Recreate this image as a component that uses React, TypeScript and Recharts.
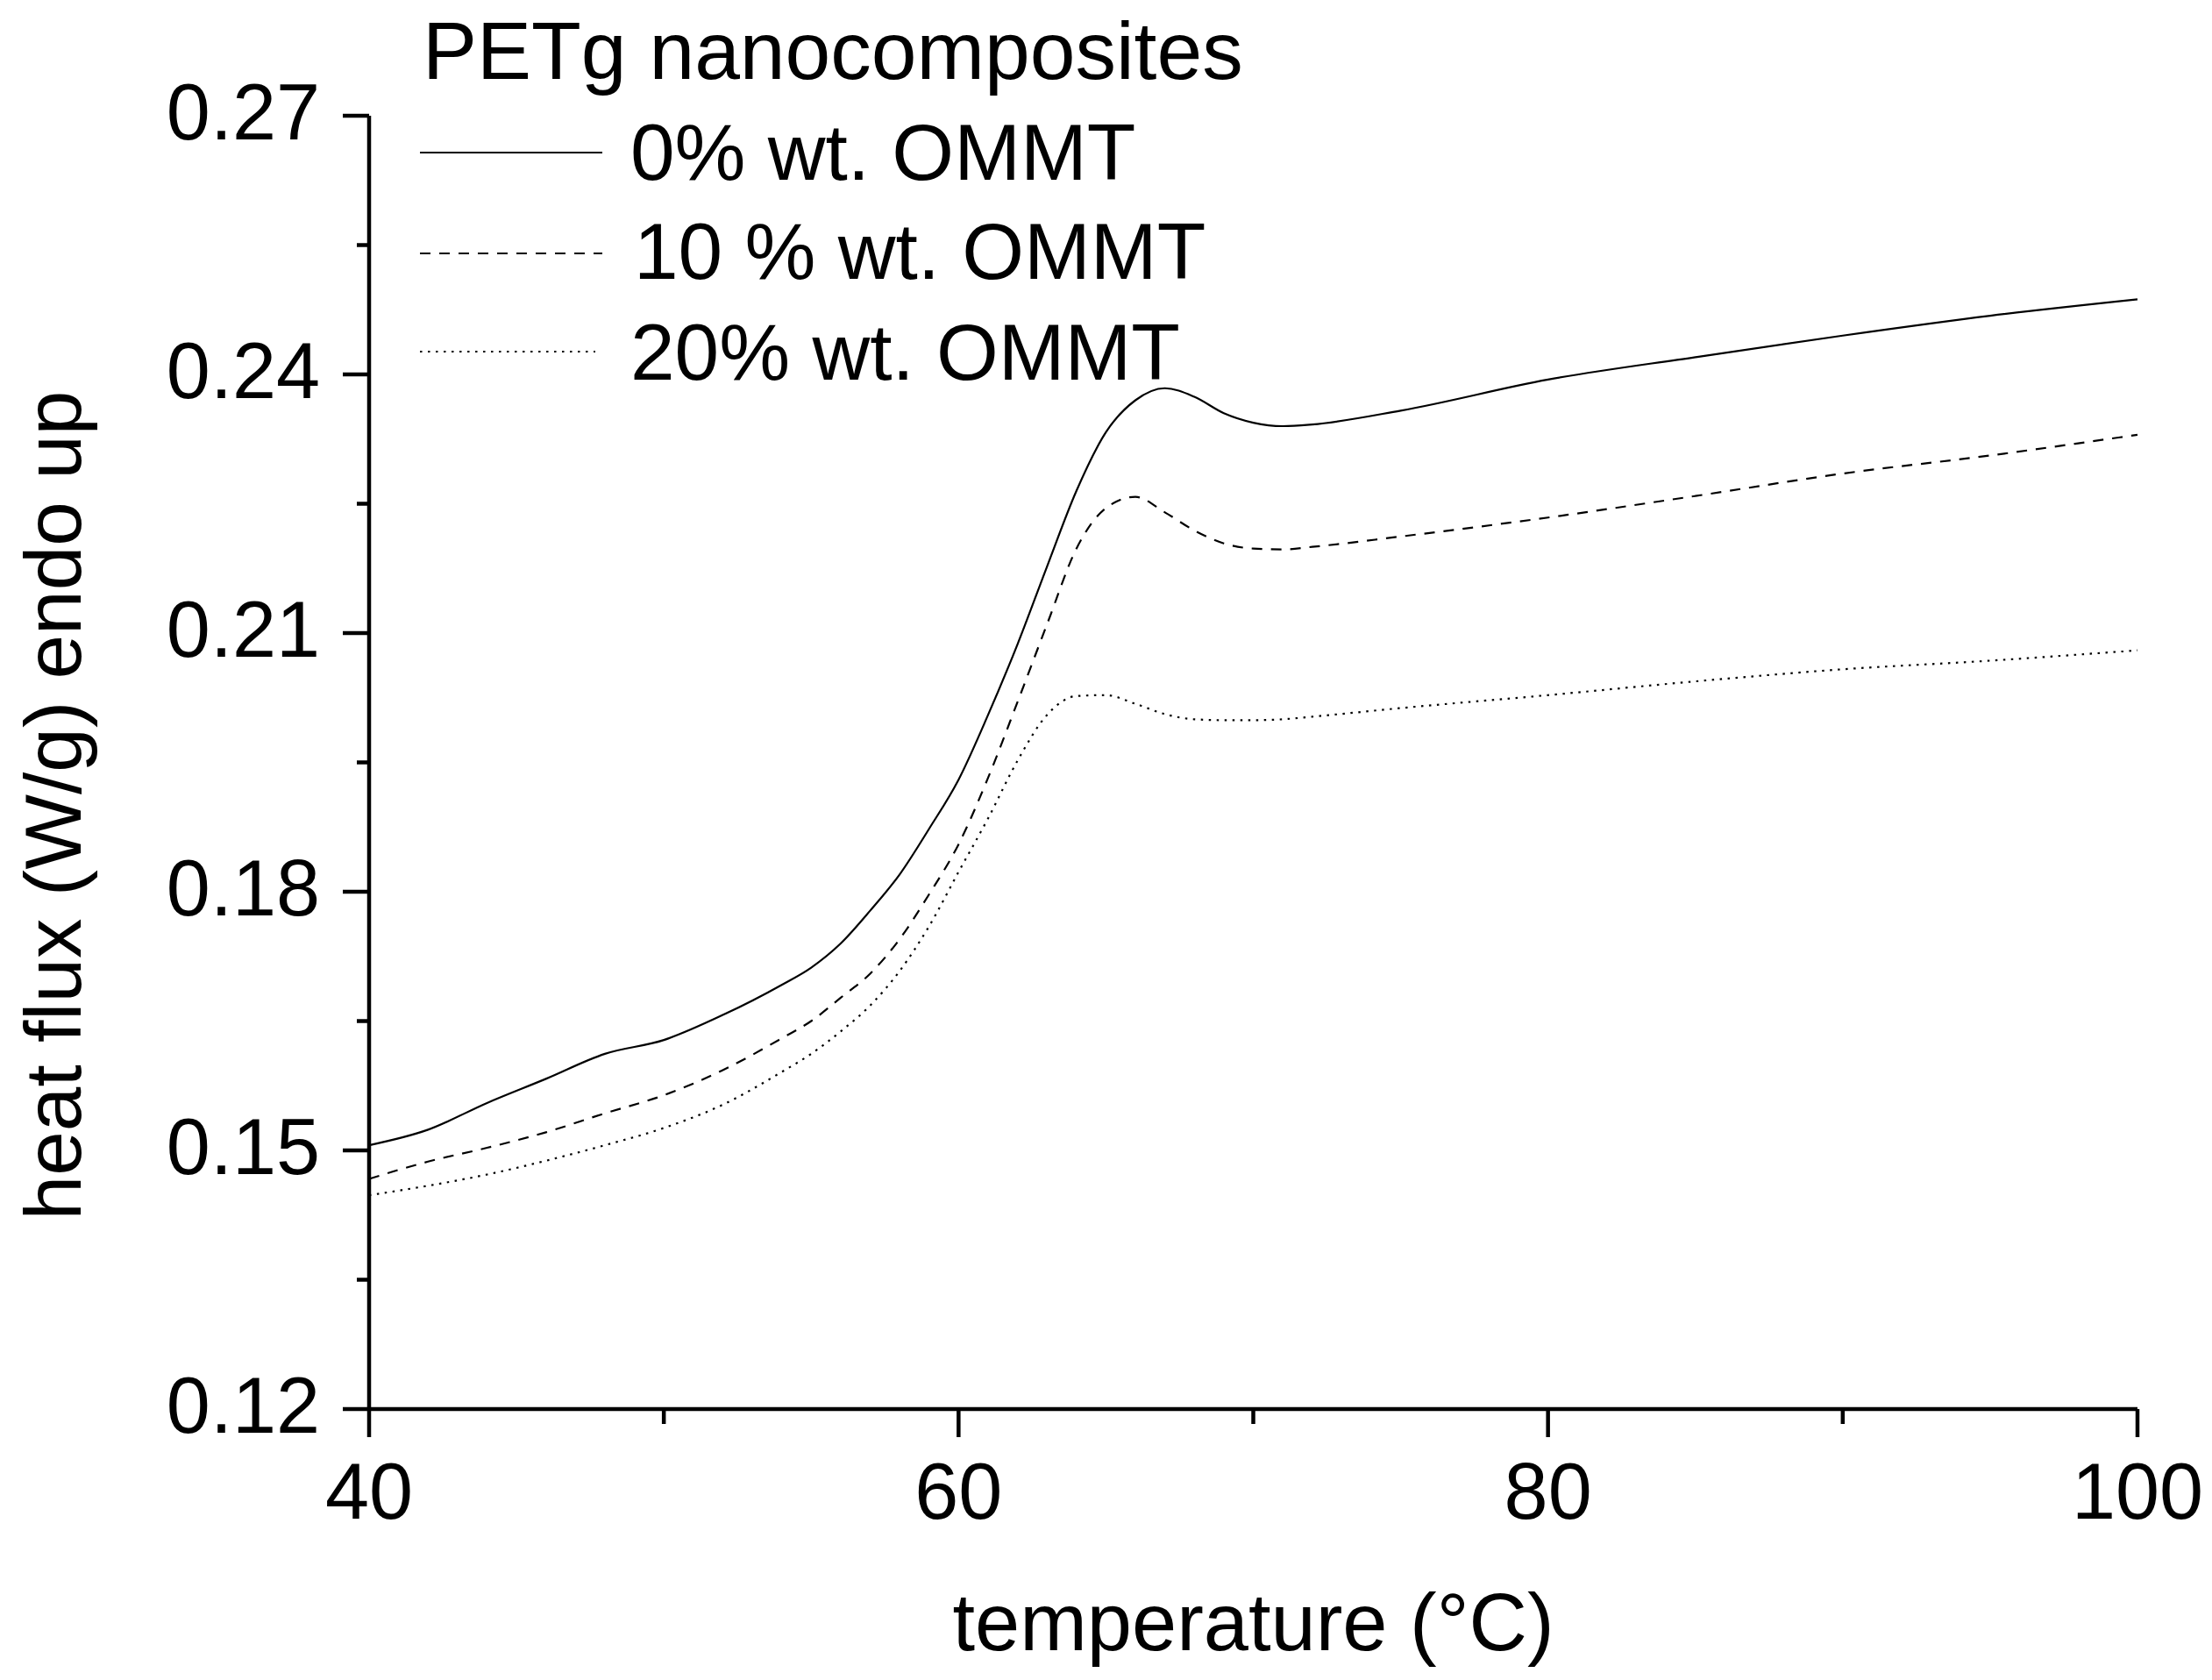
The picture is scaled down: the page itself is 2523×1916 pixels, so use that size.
import React from "react";
import { LineChart, Line, XAxis, YAxis, Legend, Label } from "recharts";

const TEMPS = [40, 42, 44, 46, 48, 50, 52, 54, 55, 56, 57, 58, 59, 60, 61, 62, 63, 64, 65, 66, 67, 68, 69, 70, 71, 72, 75, 80, 85, 90, 95, 100];
const OMMT0 = [0.1506, 0.1524, 0.1555, 0.1583, 0.1612, 0.1628, 0.1657, 0.1692, 0.1712, 0.174, 0.1778, 0.182, 0.1873, 0.193, 0.2005, 0.2087, 0.2177, 0.2265, 0.2333, 0.237, 0.2384, 0.2374, 0.2355, 0.2344, 0.234, 0.2342, 0.2358, 0.2394, 0.242, 0.2445, 0.2468, 0.2487];
const OMMT10 = [0.1467, 0.1487, 0.1503, 0.1521, 0.1543, 0.1564, 0.1593, 0.163, 0.165, 0.1677, 0.1705, 0.1745, 0.1797, 0.1855, 0.1932, 0.202, 0.211, 0.2198, 0.2245, 0.2258, 0.224, 0.2219, 0.2204, 0.2198, 0.2197, 0.22, 0.2212, 0.2234, 0.2259, 0.2285, 0.2306, 0.233];
const OMMT20 = [0.1448, 0.1459, 0.1472, 0.1488, 0.1506, 0.1526, 0.1553, 0.1591, 0.1612, 0.1638, 0.1668, 0.1708, 0.176, 0.1823, 0.1885, 0.1952, 0.2005, 0.2027, 0.2028, 0.2018, 0.2006, 0.2, 0.1999, 0.1999, 0.2, 0.2003, 0.2013, 0.2028, 0.2044, 0.2058, 0.2068, 0.208];

const SERIES_NAMES = ["0% wt. OMMT", "10 % wt. OMMT", "20% wt. OMMT"];
const SERIES_KEYS = ["s0", "s10", "s20"];
const SERIES_DASH = ["", "12 10", "2.5 6.5"];

const X_TICKS = [40, 50, 60, 70, 80, 90, 100];
const X_MAJOR = [40, 60, 80, 100];
const Y_TICKS = [0.12, 0.135, 0.15, 0.165, 0.18, 0.195, 0.21, 0.225, 0.24, 0.255, 0.27];
const Y_MAJOR = [0.12, 0.15, 0.18, 0.21, 0.24, 0.27];

const LEGEND_TITLE = "PETg nanocomposites";
const X_TITLE = "temperature (°C)";
const Y_TITLE = "heat flux (W/g) endo up";

const data = TEMPS.map((t, i) => ({ t, s0: OMMT0[i], s10: OMMT10[i], s20: OMMT20[i] }));

const FONT = "'Liberation Sans', Arial, sans-serif";
const isIn = (arr: number[], v: number) => arr.some((a) => Math.abs(a - v) < 1e-6);

const XTick = (props: any) => {
  const { x, y, payload } = props;
  const major = isIn(X_MAJOR, payload.value);
  return (
    <g>
      <line x1={x} x2={x} y1={y} y2={y + (major ? 32 : 17)} stroke="#000" strokeWidth={4.5} />
      {major && (
        <text x={x} y={y + 125} textAnchor="middle" fontSize={90} fontFamily={FONT} fill="#000">
          {payload.value}
        </text>
      )}
    </g>
  );
};

const YTick = (props: any) => {
  const { x, y, payload } = props;
  const major = isIn(Y_MAJOR, payload.value);
  return (
    <g>
      <line x1={x - (major ? 30 : 14)} x2={x} y1={y} y2={y} stroke="#000" strokeWidth={4.5} />
      {major && (
        <text x={x - 56} y={y + 27} textAnchor="end" fontSize={90} fontFamily={FONT} fill="#000">
          {payload.value.toFixed(2)}
        </text>
      )}
    </g>
  );
};

const LegendContent = () => (
  <svg width={1500} height={480} style={{ display: "block" }}>
    <text x={482} y={90} fontSize={93} fontFamily={FONT} fill="#000">
      {LEGEND_TITLE}
    </text>
    {SERIES_NAMES.map((name, i) => {
      const ly = [174, 289, 401][i];
      const ty = [205, 318, 433][i];
      return (
        <g key={name}>
          <line x1={479} x2={i === 2 ? 679 : 687} y1={ly} y2={ly} stroke="#000" strokeWidth={2.2} strokeDasharray={SERIES_DASH[i] || undefined} />
          <text x={i === 1 ? 723 : 719} y={ty} fontSize={91} fontFamily={FONT} fill="#000">
            {name}
          </text>
        </g>
      );
    })}
  </svg>
);

export default function App() {
  return (
    <div style={{ position: "absolute", left: 0, top: 0, width: 2523, height: 1916, background: "#fff" }}>
      <LineChart width={2523} height={1916} data={data} margin={{ top: 132, right: 85, bottom: 0, left: 0 }}>
        <XAxis
          dataKey="t"
          type="number"
          domain={[40, 100]}
          ticks={X_TICKS}
          interval={0}
          height={309}
          tickSize={0}
          tickMargin={0}
          tickLine={false}
          tick={<XTick />}
          axisLine={{ stroke: "#000", strokeWidth: 4.5 }}
        >
          <Label
            content={(p: any) => {
              const vb = p.viewBox;
              return (
                <text x={vb.x + vb.width / 2} y={vb.y + 275} textAnchor="middle" fontSize={92} fontFamily={FONT} fill="#000">
                  {X_TITLE}
                </text>
              );
            }}
          />
        </XAxis>
        <YAxis
          type="number"
          domain={[0.12, 0.27]}
          ticks={Y_TICKS}
          interval={0}
          width={421}
          tickSize={0}
          tickMargin={0}
          tickLine={false}
          tick={<YTick />}
          axisLine={{ stroke: "#000", strokeWidth: 4.5 }}
          allowDataOverflow
        >
          <Label
            content={(p: any) => {
              const vb = p.viewBox;
              const cy = vb.y + vb.height / 2 + 49;
              return (
                <text
                  x={92}
                  y={cy}
                  transform={`rotate(-90, 92, ${cy})`}
                  textAnchor="middle"
                  fontSize={91}
                  fontFamily={FONT}
                  fill="#000"
                >
                  {Y_TITLE}
                </text>
              );
            }}
          />
        </YAxis>
        <Legend
          layout="horizontal"
          verticalAlign="middle"
          align="center"
          content={<LegendContent />}
          wrapperStyle={{ position: "absolute", left: 0, top: 0, width: 1500, height: 480 }}
        />
        {SERIES_KEYS.map((k, i) => (
          <Line
            key={k}
            dataKey={k}
            name={SERIES_NAMES[i]}
            type="monotone"
            stroke="#000"
            strokeWidth={2.2}
            strokeDasharray={SERIES_DASH[i] || undefined}
            dot={false}
            activeDot={false}
            isAnimationActive={false}
          />
        ))}
      </LineChart>
    </div>
  );
}
